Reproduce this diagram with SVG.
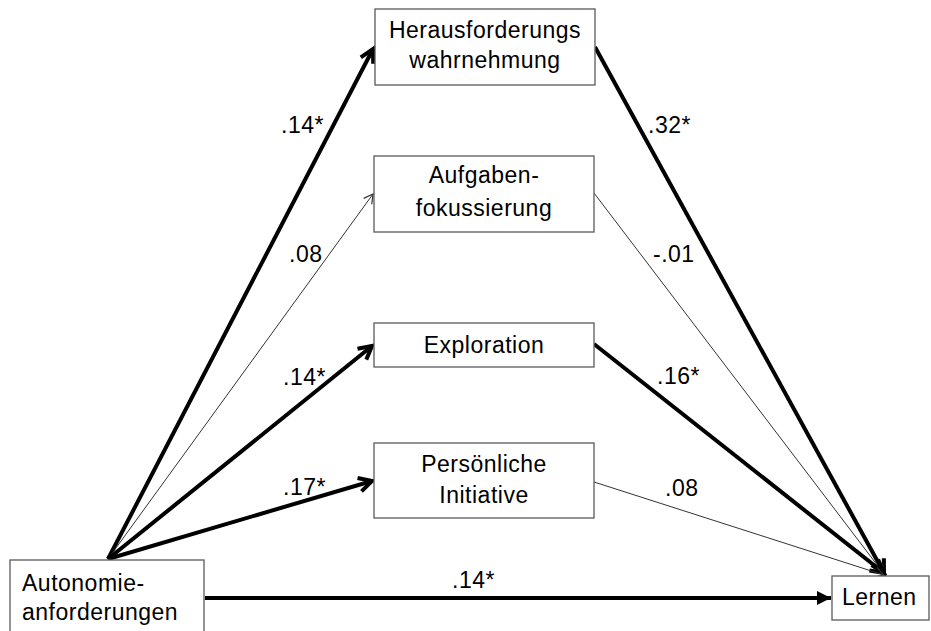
<svg xmlns="http://www.w3.org/2000/svg" width="931" height="631" viewBox="0 0 931 631">
<style>
.box{fill:#fff;stroke:#595959;stroke-width:1.3}
.t{font-family:"Liberation Sans",Arial,sans-serif;font-size:23px;fill:#000;letter-spacing:0.5px}
.c{text-anchor:middle}
.thick{stroke:#000;stroke-width:4;fill:none}
.thin{stroke:#333;stroke-width:1;fill:none}
</style>
<defs>
<marker id="ahThick" markerUnits="userSpaceOnUse" viewBox="-16 -10 20 20" refX="0" refY="0" markerWidth="20" markerHeight="20" orient="auto">
<path d="M-13,-7 L0,0 L-13,7" fill="none" stroke="#000" stroke-width="4" stroke-linejoin="miter"/>
</marker>
<marker id="ahThin" markerUnits="userSpaceOnUse" viewBox="-12 -8 14 16" refX="0" refY="0" markerWidth="14" markerHeight="16" orient="auto">
<path d="M-9,-5 L0,0 L-9,5" fill="none" stroke="#333" stroke-width="1.2"/>
</marker>
<marker id="ahFill" markerUnits="userSpaceOnUse" viewBox="-16 -10 20 20" refX="0" refY="0" markerWidth="20" markerHeight="20" orient="auto">
<path d="M-14,-7 L0,0 L-14,7 Z" fill="#000"/>
</marker>
</defs>

<g id="connectors">
<line class="thick" x1="108" y1="559" x2="373" y2="49" marker-end="url(#ahThick)"/>
<line class="thin" x1="108" y1="559" x2="373" y2="194" marker-end="url(#ahThin)"/>
<line class="thick" x1="108" y1="559" x2="372" y2="346" marker-end="url(#ahThick)"/>
<line class="thick" x1="108" y1="559" x2="372" y2="481" marker-end="url(#ahThick)"/>
<line class="thick" x1="595" y1="47" x2="884" y2="573" marker-end="url(#ahThick)"/>
<line class="thin" x1="594" y1="193" x2="884" y2="574" marker-end="url(#ahThin)"/>
<line class="thick" x1="594" y1="344" x2="884" y2="573" marker-end="url(#ahThick)"/>
<line class="thin" x1="594" y1="482" x2="884" y2="575" marker-end="url(#ahThin)"/>
<line class="thick" x1="205" y1="598" x2="831" y2="598" marker-end="url(#ahFill)"/>
<text class="t" x="281" y="133">.14*</text>
<text class="t" x="289" y="262">.08</text>
<text class="t" x="283" y="385">.14*</text>
<text class="t" x="283" y="495">.17*</text>
<text class="t" x="648" y="133">.32*</text>
<text class="t" x="653" y="262">-.01</text>
<text class="t" x="657" y="384">.16*</text>
<text class="t" x="665" y="496">.08</text>
<text class="t" x="452" y="588">.14*</text>
</g>

<g id="herausforderung">
<rect class="box" x="375" y="9" width="220" height="76"/>
<text class="t c" x="485" y="38">Herausforderungs</text>
<text class="t c" x="485" y="68">wahrnehmung</text>
</g>
<g id="aufgaben">
<rect class="box" x="374" y="156" width="220" height="76"/>
<text class="t c" x="484" y="183">Aufgaben-</text>
<text class="t c" x="484" y="216">fokussierung</text>
</g>
<g id="exploration">
<rect class="box" x="374" y="323" width="220" height="44"/>
<text class="t c" x="484" y="353">Exploration</text>
</g>
<g id="initiative">
<rect class="box" x="374" y="443" width="220" height="75"/>
<text class="t c" x="484" y="472">Persönliche</text>
<text class="t c" x="484" y="503">Initiative</text>
</g>
<g id="autonomie">
<rect class="box" x="10" y="560" width="194" height="80"/>
<text class="t" x="22" y="591">Autonomie-</text>
<text class="t" x="22" y="620">anforderungen</text>
</g>
<g id="lernen">
<rect class="box" x="832" y="576" width="97" height="44"/>
<text class="t" x="842" y="605">Lernen</text>
</g>
</svg>
